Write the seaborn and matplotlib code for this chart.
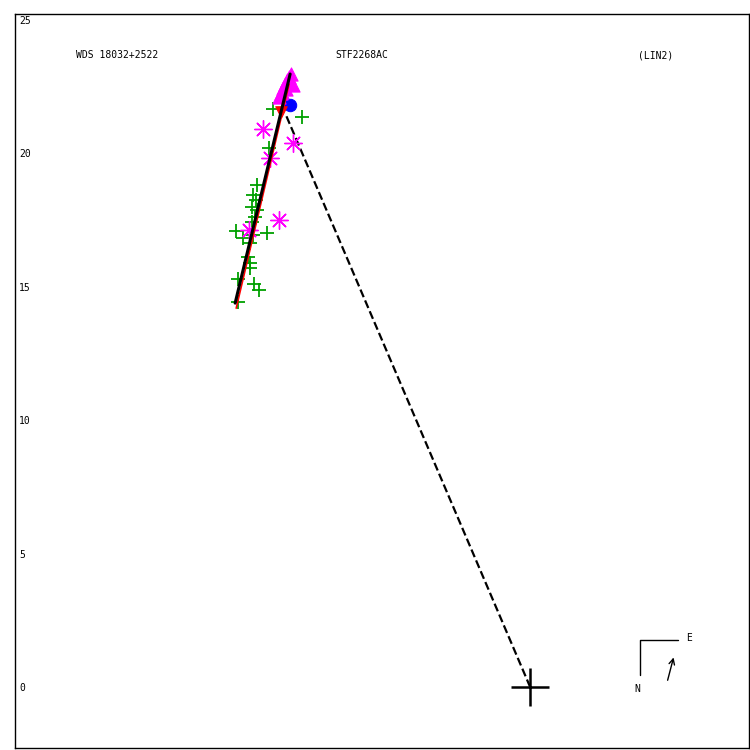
import matplotlib
matplotlib.use("Agg")

import matplotlib.pyplot as plt  # noqa: E402
import pandas as pd              # noqa: E402
import seaborn as sns            # noqa: E402

sns.set_style("white")
plt.rcParams["font.family"] = ["DejaVu Sans Mono", "DejaVu Sans"]
plt.rcParams["text.color"] = "black"
plt.rcParams["ytick.color"] = "black"

# --------------------------------------------------------------------------- #
# Data (arcsec offsets of the companion relative to the primary)
# --------------------------------------------------------------------------- #
micro_x = [-8.54, -9.63, -9.78, -10.22, -10.37, -10.26, -10.41, -10.22, -10.30,
           -10.41, -11.01, -10.75, -10.37, -9.85, -10.49, -10.56, -10.49,
           -10.49, -10.94, -10.34, -10.15, -10.94]
micro_y = [21.35, 21.65, 20.19, 18.80, 18.43, 18.24, 17.98, 17.87, 17.60,
           17.42, 17.08, 16.82, 16.93, 17.00, 16.63, 16.10, 15.88, 15.69,
           15.28, 15.09, 14.87, 14.42]

photo_x = [-10.00, -8.88, -9.74, -9.40, -10.52]
photo_y = [20.90, 20.37, 19.81, 17.49, 17.12]

ccd_x = [-9.40, -9.30, -9.33, -9.25, -9.18, -9.10, -9.03, -8.95, -9.14,
         -8.99, -8.90]
ccd_y = [22.10, 22.28, 22.25, 22.43, 22.58, 22.73, 22.85, 22.96, 22.40,
         22.66, 22.55]

first_x, first_y = [-9.33], [21.54]
last_x, last_y = [-8.99], [21.80]

fit_x, fit_y = [-11.05, -8.99], [14.38, 22.96]
fit2_x, fit2_y = [-11.01, -9.03], [14.19, 22.58]
closest_x, closest_y = [0.0, -9.18], [0.0, 21.50]

Y_TICKS = [0, 5, 10, 15, 20, 25]
XLIM = (-19.29, 8.20)
YLIM = (-2.28, 25.21)

# --------------------------------------------------------------------------- #
# Figure
# --------------------------------------------------------------------------- #
fig = plt.figure(figsize=(7.5, 7.5), dpi=100)
ax = fig.add_axes([0.02, 0.0027, 0.979, 0.9787])

micro = pd.DataFrame({"x": micro_x, "y": micro_y})
photo = pd.DataFrame({"x": photo_x, "y": photo_y})
ccd = pd.DataFrame({"x": ccd_x, "y": ccd_y})

sns.lineplot(x=closest_x, y=closest_y, ax=ax, color="black", lw=1.6,
             dashes=(6, 4), linestyle="--", sort=False)
sns.scatterplot(data=micro, x="x", y="y", ax=ax, marker="+", s=110,
                color="#00a000", linewidth=1.3, zorder=3)
sns.scatterplot(data=photo, x="x", y="y", ax=ax, marker=(8, 2, 0), s=160,
                color="#ff00ff", linewidth=1.0, zorder=3)
sns.scatterplot(data=ccd, x="x", y="y", ax=ax, marker="^", s=90,
                color="#ff00ff", edgecolor="#ff00ff", zorder=4)
sns.scatterplot(x=first_x, y=first_y, ax=ax, marker="v", s=70,
                color="red", edgecolor="red", zorder=4)
sns.scatterplot(x=last_x, y=last_y, ax=ax, marker="o", s=80,
                color="blue", edgecolor="blue", zorder=3.5)
ax.plot(fit2_x, fit2_y, color="red", lw=1.2, zorder=5)
ax.plot(fit_x, fit_y, color="black", lw=2.2, zorder=6)

# primary star
ax.plot([0], [0], marker="+", ms=27, mew=1.8, color="black", zorder=6)

# header
ax.text(0.139, 0.944, "WDS 18032+2522", transform=ax.transAxes,
        ha="center", va="center", fontsize=7)
ax.text(0.473, 0.944, "STF2268AC", transform=ax.transAxes,
        ha="center", va="center", fontsize=7)
ax.text(0.873, 0.944, "(LIN2)", transform=ax.transAxes,
        ha="center", va="center", fontsize=7)

# orientation marker
ax.plot([0.851, 0.851, 0.903], [0.0995, 0.147, 0.147], color="black",
        lw=1, transform=ax.transAxes)
ax.text(0.918, 0.150, "E", transform=ax.transAxes, ha="center",
        va="center", fontsize=7)
ax.text(0.847, 0.080, "N", transform=ax.transAxes, ha="center",
        va="center", fontsize=7)
ax.annotate("", xy=(0.898, 0.127), xytext=(0.888, 0.0886),
            xycoords="axes fraction",
            arrowprops=dict(arrowstyle="->", lw=1, color="black"))

ax.set_xlim(*XLIM)
ax.set_ylim(*YLIM)
ax.set_aspect("equal", adjustable="box")
ax.set_xticks([])
ax.set_yticks(Y_TICKS)
ax.set_yticklabels([str(v) for v in Y_TICKS], fontsize=7)
ax.tick_params(axis="y", length=0, pad=-3)
for lab in ax.get_yticklabels():
    lab.set_horizontalalignment("left")
ax.set_xlabel("")
ax.set_ylabel("")
for sp in ax.spines.values():
    sp.set_linewidth(1)
    sp.set_color("black")

fig.savefig("out.png", dpi=100)
